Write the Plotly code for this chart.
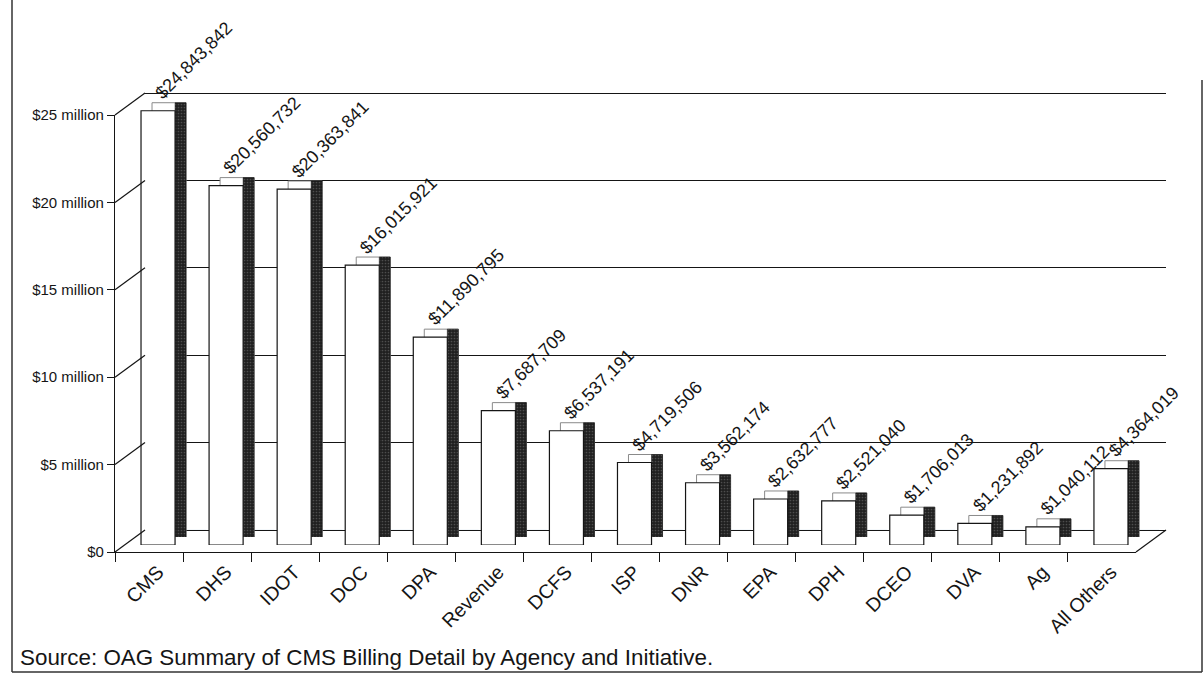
import plotly.graph_objects as go

agencies = ["CMS", "DHS", "IDOT", "DOC", "DPA", "Revenue", "DCFS", "ISP", "DNR",
            "EPA", "DPH", "DCEO", "DVA", "Ag", "All Others"]
billing = [24843842, 20560732, 20363841, 16015921, 11890795, 7687709, 6537191,
           4719506, 3562174, 2632777, 2521040, 1706013, 1231892, 1040112, 4364019]
tick_vals = [0, 5e6, 10e6, 15e6, 20e6, 25e6]
tick_text = ["$0", "$5 million", "$10 million", "$15 million", "$20 million", "$25 million"]
source_note = "Source: OAG Summary of CMS Billing Detail by Agency and Initiative."

W, H = 1204, 675
FONT = "Liberation Sans, Arial, sans-serif"
INK = "#151515"

# pixel geometry of the front plane
FX0, FX1 = 115, 1136          # category axis extent
FY_TOP, FY_ZERO = 115, 552    # y of 25M and of 0
YMAX = 25e6
BAR_DX, BAR_DY = 9, 7         # bar front faces sit slightly back
DEPTH_DX, DEPTH_DY = 20, 15   # back edge of the bars
WALL_DX, WALL_DY = 30, 22     # back wall

n = len(agencies)
unit = (FX1 - FX0) / n
px_per_val = (FY_ZERO - FY_TOP) / YMAX


def xdom(dx):
    return [(FX0 + dx) / W, (FX1 + dx) / W]


def ydom(dy, vmax=YMAX):
    zero = FY_ZERO - dy
    top = zero - vmax * px_per_val
    return [(H - zero) / H, (H - top) / H]


def ypaper(v, dy=0):
    return (H - (FY_ZERO - dy - v * px_per_val)) / H


fig = go.Figure()

# 1) back wall (gridlines) on (x, y)
fig.add_trace(go.Bar(x=agencies, y=[0] * n, xaxis="x", yaxis="y",
                     marker_color="rgba(0,0,0,0)", showlegend=False, hoverinfo="skip"))

# 2) bar top face + dark side face on (x2, y2)
side_units = (DEPTH_DX - BAR_DX) / unit
fig.add_trace(go.Bar(x=agencies, y=billing, xaxis="x2", yaxis="y2", width=0.5,
                     marker=dict(color="white", line=dict(color="#8a8a8a", width=1)),
                     showlegend=False, hoverinfo="skip"))
fig.add_trace(go.Bar(x=agencies, y=billing, xaxis="x2", yaxis="y2",
                     width=side_units, offset=0.25 - side_units,
                     marker=dict(color="#262626", line=dict(color="#111", width=0.5),
                                 pattern=dict(shape=".", fgcolor="#7a7a7a", bgcolor="#202020",
                                              size=3, solidity=0.25)),
                     showlegend=False, hoverinfo="skip"))

# 3) bar front faces on (x3, y3)
fig.add_trace(go.Bar(x=agencies, y=billing, xaxis="x3", yaxis="y3", width=0.5,
                     marker=dict(color="white", line=dict(color=INK, width=1.2)),
                     showlegend=False))

# 4) front axes frame on (x4, y4)
fig.add_trace(go.Scatter(x=agencies, y=[0] * n, xaxis="x4", yaxis="y4", mode="markers",
                         marker=dict(opacity=0), showlegend=False, hoverinfo="skip"))

annotations = []
for a, v in zip(agencies, billing):
    annotations.append(dict(x=a, y=v, xref="x3", yref="y3", text=f"${v:,}",
                            showarrow=False, textangle=-45, xanchor="left", yanchor="bottom",
                            xshift=-9, yshift=5, font=dict(family=FONT, size=18, color=INK)))
annotations.append(dict(x=18 / W, y=(H - 657) / H, xref="paper", yref="paper", text=source_note,
                        showarrow=False, xanchor="left", yanchor="middle",
                        font=dict(family=FONT, size=22.4, color=INK)))

rng = [-0.5, n - 0.5]
wall_max = 25.1e6

frame = dict(color="#333", width=1.5)
edge = dict(color=INK, width=1.2)
shapes = [
    dict(type="line", xref="paper", yref="paper", x0=12 / W, x1=12 / W, y0=3 / H, y1=1, line=frame),
    dict(type="line", xref="paper", yref="paper", x0=12 / W, x1=1202 / W, y0=3 / H, y1=3 / H, line=frame),
    dict(type="line", xref="paper", yref="paper", x0=1202 / W, x1=1202 / W, y0=3 / H, y1=(H - 80) / H, line=frame),
]
# slanted connectors from the front value axis to the back wall
for tv in tick_vals:
    shapes.append(dict(type="line", xref="paper", yref="paper",
                       x0=FX0 / W, x1=(FX0 + WALL_DX) / W,
                       y0=ypaper(tv), y1=ypaper(tv, WALL_DY), line=edge))
# right edge of the floor
shapes.append(dict(type="line", xref="paper", yref="paper",
                   x0=FX1 / W, x1=(FX1 + WALL_DX) / W,
                   y0=ypaper(0), y1=ypaper(0, WALL_DY), line=edge))

hidden = dict(showticklabels=False, ticks="", showgrid=False, showline=False, zeroline=False)

fig.update_layout(
    width=W, height=H,
    margin=dict(l=0, r=0, t=0, b=0, autoexpand=False),
    paper_bgcolor="white", plot_bgcolor="rgba(0,0,0,0)",
    barmode="overlay",
    font=dict(family=FONT, color=INK),
    annotations=annotations, shapes=shapes,
    xaxis=dict(domain=xdom(WALL_DX), range=rng, anchor="y", **hidden),
    yaxis=dict(domain=ydom(WALL_DY, wall_max), range=[0, wall_max], anchor="x",
               tickvals=tick_vals, showticklabels=False, ticks="",
               showgrid=True, gridcolor=INK, gridwidth=1.2,
               zeroline=True, zerolinecolor=INK, zerolinewidth=1.2, showline=False),
    xaxis2=dict(domain=xdom(DEPTH_DX), range=rng, anchor="y2", **hidden),
    yaxis2=dict(domain=ydom(DEPTH_DY), range=[0, YMAX], anchor="x2", **hidden),
    xaxis3=dict(domain=xdom(BAR_DX), range=rng, anchor="y3", **hidden),
    yaxis3=dict(domain=ydom(BAR_DY), range=[0, YMAX], anchor="x3", **hidden),
    xaxis4=dict(domain=xdom(0), range=rng, anchor="y4",
                tickson="boundaries", ticks="outside", ticklen=9, tickcolor=INK, tickwidth=1.2,
                tickangle=-45, ticklabelshift=9,
                tickfont=dict(family=FONT, size=19.5, color=INK),
                showline=True, linecolor=INK, linewidth=1.2, showgrid=False, zeroline=False),
    yaxis4=dict(domain=ydom(0), range=[0, YMAX], anchor="x4",
                tickvals=tick_vals, ticktext=tick_text, ticks="outside", ticklen=7,
                tickcolor=INK, tickwidth=1.2, tickfont=dict(family=FONT, size=15, color=INK),
                showline=True, linecolor=INK, linewidth=1.2, showgrid=False, zeroline=False),
)

fig.write_html("out.html", config={"responsive": False, "displayModeBar": False},
               post_script="document.body.style.margin='0px';document.body.style.overflow='hidden';")
